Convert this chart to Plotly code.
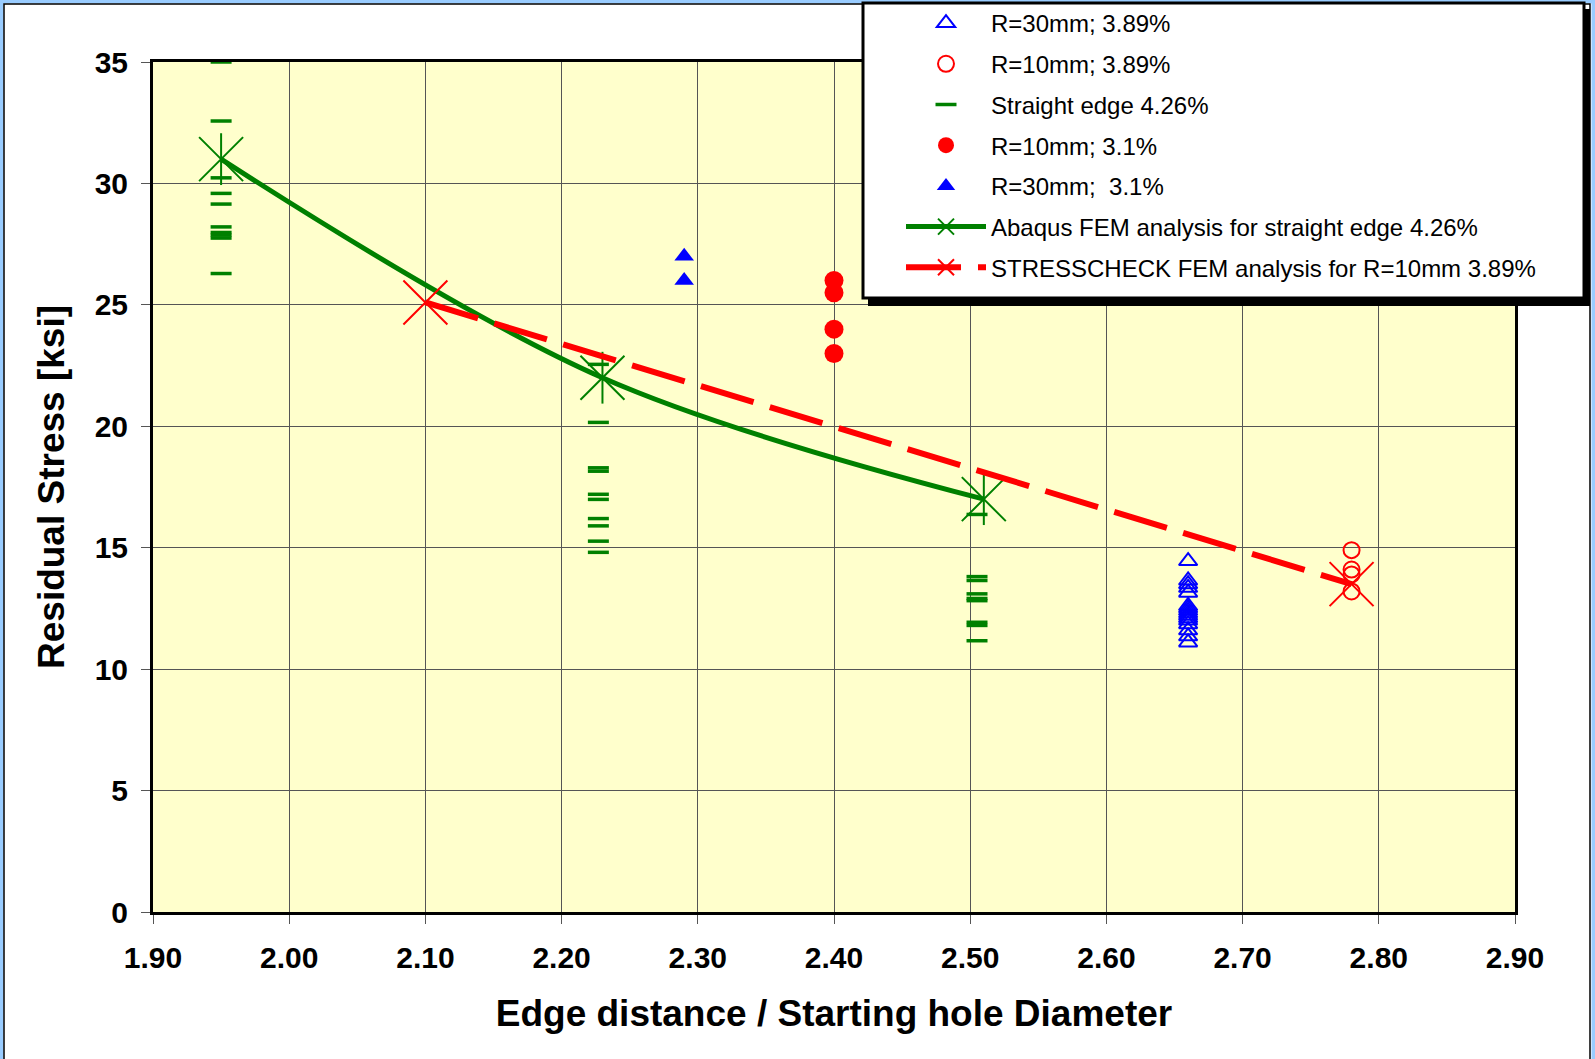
import plotly.graph_objects as go

# ---- measured data -------------------------------------------------------
r30_389_x = 2.66
r30_389_y = [14.45, 13.65, 13.5, 13.35, 13.15, 12.6, 12.5, 12.4, 12.3, 12.2,
             12.1, 12.0, 11.85, 11.6, 11.35, 11.1]

r10_389_x = 2.78
r10_389_y = [14.9, 14.1, 13.9, 13.2]

straight_x = [1.95, 2.227, 2.505]
straight_y = [
    [35.0, 32.57, 30.23, 29.59, 29.15, 28.21, 27.98, 27.87, 27.75, 26.29],
    [22.55, 20.16, 18.29, 18.15, 17.2, 16.99, 16.2, 15.9, 15.27, 14.81],
    [16.37, 13.81, 13.65, 13.1, 12.91, 12.82, 11.93, 11.8, 11.17],
]

r10_31_x = 2.40
r10_31_y = [26.0, 25.5, 24.0, 23.0]

r30_31_x = 2.29
r30_31_y = [27.0, 26.0]

abaqus_x = [1.95, 2.23, 2.51]
abaqus_y = [31.0, 22.0, 17.0]

stresscheck_x = [2.10, 2.78]
stresscheck_y = [25.1, 13.5]

x_ticks = [1.90, 2.00, 2.10, 2.20, 2.30, 2.40, 2.50, 2.60, 2.70, 2.80, 2.90]
y_ticks = [0, 5, 10, 15, 20, 25, 30, 35]

names = [
    "R=30mm; 3.89%",
    "R=10mm; 3.89%",
    "Straight edge 4.26%",
    "R=10mm; 3.1%",
    "R=30mm;  3.1%",
    "Abaqus FEM analysis for straight edge 4.26%",
    "STRESSCHECK FEM analysis for R=10mm 3.89%",
]

GREEN = "#008000"
RED = "#FF0000"
BLUE = "#0000FF"
FONT = "Liberation Sans, Arial"

# ---- figure geometry ------------------------------------------------------
W, H = 1595, 1059
ML, MR, MT, MB = 153, 80, 62, 147
PW, PH = W - ML - MR, H - MT - MB


def px_x(px):
    return (px - ML) / PW


def px_y(py):
    return (H - MB - py) / PH


fig = go.Figure()

fig.add_trace(go.Scatter(
    x=[r30_389_x] * len(r30_389_y), y=r30_389_y, mode="markers", name=names[0],
    legendgroup="g0",
    marker=dict(symbol="triangle-up-open", size=16, color=BLUE,
                line=dict(width=2, color=BLUE)),
))
fig.add_trace(go.Scatter(
    x=[r10_389_x] * len(r10_389_y), y=r10_389_y, mode="markers", name=names[1],
    legendgroup="g1",
    marker=dict(symbol="circle-open", size=16, color=RED,
                line=dict(width=2, color=RED)),
))
sx, sy = [], []
for xv, ys in zip(straight_x, straight_y):
    sx += [xv] * len(ys)
    sy += ys
fig.add_trace(go.Scatter(
    x=sx, y=sy, mode="markers", name=names[2], legendgroup="g2",
    cliponaxis=False,
    marker=dict(symbol="line-ew", size=15, color=GREEN,
                line=dict(width=3.5, color=GREEN)),
))
fig.add_trace(go.Scatter(
    x=[r10_31_x] * len(r10_31_y), y=r10_31_y, mode="markers", name=names[3],
    legendgroup="g3",
    marker=dict(symbol="circle", size=19, color=RED),
))
fig.add_trace(go.Scatter(
    x=[r30_31_x] * len(r30_31_y), y=r30_31_y, mode="markers", name=names[4],
    legendgroup="g4",
    marker=dict(symbol="triangle-up", size=17, color=BLUE),
))

# Abaqus curve: smoothed line with star markers (X plus vertical stroke)
fig.add_trace(go.Scatter(
    x=abaqus_x, y=abaqus_y, mode="lines+markers", name=names[5],
    legendgroup="g5",
    line=dict(color=GREEN, width=5, shape="spline", smoothing=1.0),
    marker=dict(symbol="x-thin-open", size=44, color=GREEN,
                line=dict(width=2, color=GREEN)),
))
fig.add_trace(go.Scatter(
    x=abaqus_x, y=abaqus_y, mode="markers", showlegend=False,
    legendgroup="g5", hoverinfo="skip",
    marker=dict(symbol="line-ns-open", size=37, color=GREEN,
                line=dict(width=2, color=GREEN)),
))

fig.add_trace(go.Scatter(
    x=stresscheck_x, y=stresscheck_y, mode="lines+markers", name=names[6],
    legendgroup="g6",
    line=dict(color=RED, width=6, dash="55px,17px"),
    marker=dict(symbol="x-thin-open", size=44, color=RED,
                line=dict(width=2, color=RED)),
))

# ---- frame, legend box -----------------------------------------------------
shapes = [
    # chart-area border
    dict(type="rect", xref="paper", yref="paper", layer="below",
         x0=px_x(0), x1=px_x(W), y0=px_y(H + 20), y1=px_y(0),
         line=dict(color="#99CCFF", width=7), fillcolor="rgba(0,0,0,0)"),
    dict(type="rect", xref="paper", yref="paper", layer="below",
         x0=px_x(4), x1=px_x(1590), y0=px_y(H + 20), y1=px_y(4),
         line=dict(color="#000000", width=1.5), fillcolor="rgba(0,0,0,0)"),
    # legend shadow and box
    dict(type="rect", xref="paper", yref="paper", layer="above",
         x0=px_x(868), x1=px_x(1590), y0=px_y(306), y1=px_y(9),
         line=dict(width=0), fillcolor="#000000"),
    dict(type="rect", xref="paper", yref="paper", layer="above",
         x0=px_x(863), x1=px_x(1584), y0=px_y(298), y1=px_y(3),
         line=dict(color="#000000", width=3), fillcolor="#FFFFFF"),
]

axis_common = dict(
    showline=True, linecolor="#000000", linewidth=3, mirror=True,
    showgrid=True, gridcolor="#555555", gridwidth=1,
    ticks="outside", ticklen=9, tickwidth=1, tickcolor="#555555",
    zeroline=False,
    tickfont=dict(family=FONT, size=30, color="#000000", weight="bold"),
)

fig.update_xaxes(
    range=[1.9, 2.9], tickvals=x_ticks,
    ticktext=[f"{v:.2f}" for v in x_ticks],
    ticklabelstandoff=8,
    title=dict(text="Edge distance / Starting hole Diameter", standoff=28,
               font=dict(family=FONT, size=37, color="#000000",
                         weight="bold")),
    **axis_common,
)
fig.update_yaxes(
    range=[0, 35], tickvals=y_ticks,
    ticklabelstandoff=7,
    title=dict(text="Residual Stress [ksi]", standoff=19,
               font=dict(family=FONT, size=37, color="#000000",
                         weight="bold")),
    **axis_common,
)

fig.update_layout(
    width=W, height=H,
    margin=dict(l=ML, r=MR, t=MT, b=MB, autoexpand=False),
    paper_bgcolor="#FFFFFF",
    plot_bgcolor="#FFFFCC",
    shapes=shapes,
    showlegend=True,
    legend=dict(
        x=px_x(901), y=px_y(1), xanchor="left", yanchor="top",
        bgcolor="rgba(0,0,0,0)", borderwidth=0,
        font=dict(family=FONT, size=24, color="#000000"),
        itemwidth=80, tracegroupgap=6.5, itemsizing="trace",
    ),
)

fig.write_html("out.html")
